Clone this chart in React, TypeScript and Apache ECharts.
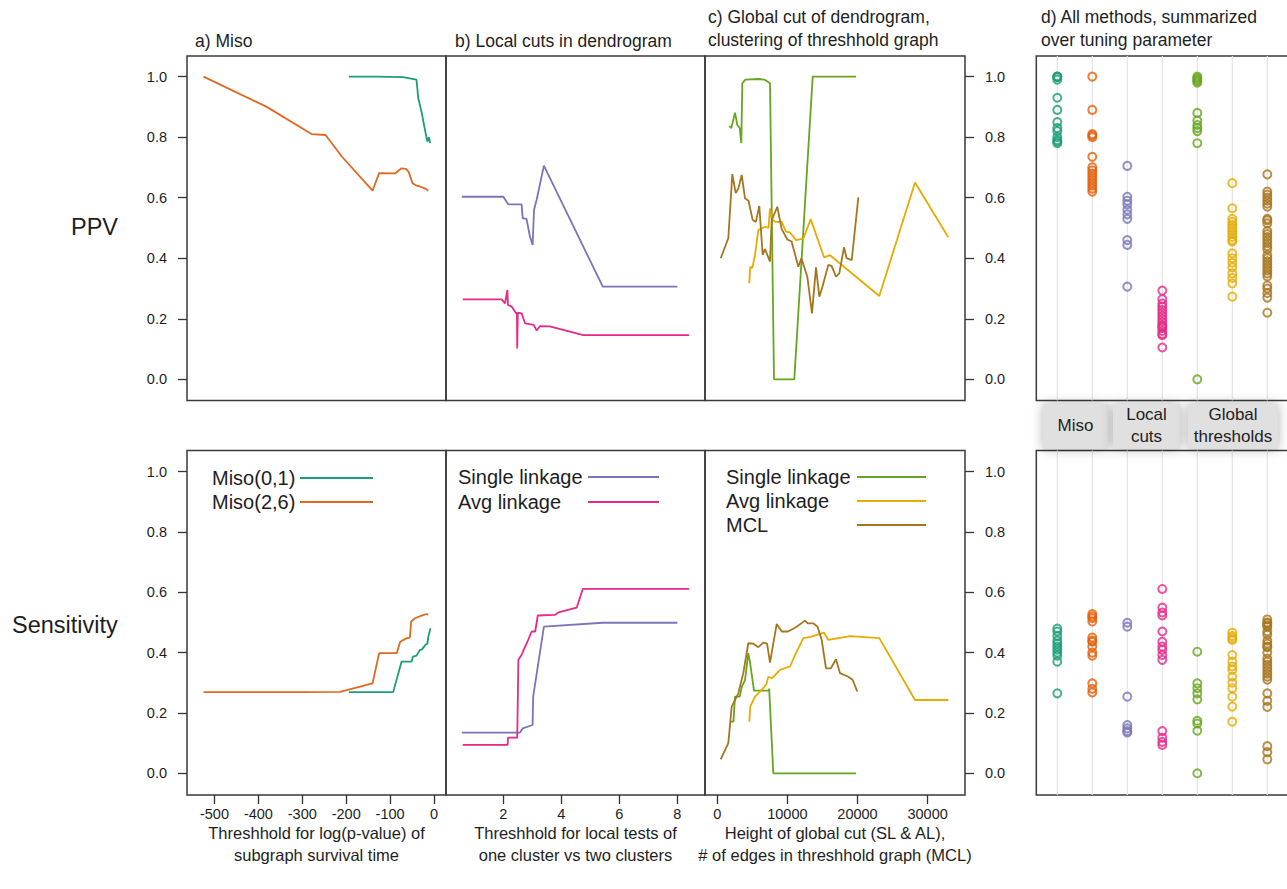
import React, { useEffect, useRef } from "react";
import * as echarts from "echarts";

type Pt = [number, number];

// ---------- Panel a: Miso (x = log p-value threshold) ----------
const miso01PPV: Pt[] = [[-194, 1.0], [-130, 1.0], [-71, 0.998], [-40, 0.99], [-38, 0.96], [-36, 0.93], [-28, 0.88], [-20, 0.82], [-15, 0.785], [-12, 0.8], [-10, 0.79], [-9, 0.78]];
const miso26PPV: Pt[] = [[-525, 1.0], [-381, 0.9], [-279, 0.81], [-247, 0.807], [-210, 0.736], [-140, 0.623], [-125, 0.681], [-89, 0.68], [-74, 0.697], [-64, 0.695], [-58, 0.686], [-49, 0.648], [-40, 0.64], [-32, 0.637], [-20, 0.63], [-13, 0.623]];
const miso01Sens: Pt[] = [[-194, 0.269], [-93, 0.269], [-74, 0.37], [-51, 0.37], [-48, 0.387], [-40, 0.39], [-32, 0.409], [-28, 0.41], [-20, 0.425], [-15, 0.43], [-13, 0.453], [-8, 0.481]];
const miso26Sens: Pt[] = [[-525, 0.269], [-300, 0.269], [-214, 0.27], [-140, 0.298], [-125, 0.398], [-85, 0.398], [-77, 0.436], [-62, 0.448], [-55, 0.45], [-52, 0.503], [-43, 0.514], [-30, 0.522], [-17, 0.528], [-13, 0.526]];

// ---------- Panel b: local cuts ----------
const slLocalPPV: Pt[] = [[0.57, 0.603], [2.0, 0.603], [2.17, 0.578], [2.63, 0.578], [2.67, 0.532], [2.8, 0.53], [2.92, 0.471], [3.01, 0.444], [3.06, 0.56], [3.15, 0.593], [3.4, 0.706], [5.43, 0.306], [8.0, 0.306]];
const alLocalPPV: Pt[] = [[0.6, 0.264], [1.94, 0.264], [2.06, 0.251], [2.14, 0.295], [2.16, 0.246], [2.29, 0.24], [2.44, 0.218], [2.47, 0.22], [2.48, 0.102], [2.5, 0.22], [2.63, 0.218], [2.75, 0.185], [2.9, 0.182], [3.05, 0.18], [3.15, 0.161], [3.27, 0.176], [3.6, 0.175], [4.76, 0.146], [8.41, 0.146]];
const slLocalSens: Pt[] = [[0.57, 0.135], [2.58, 0.135], [2.67, 0.149], [3.01, 0.16], [3.03, 0.254], [3.4, 0.486], [5.43, 0.499], [8.0, 0.499]];
const alLocalSens: Pt[] = [[0.6, 0.094], [2.15, 0.094], [2.16, 0.118], [2.48, 0.118], [2.52, 0.376], [2.63, 0.392], [2.7, 0.409], [2.83, 0.436], [2.98, 0.47], [3.1, 0.47], [3.19, 0.523], [3.78, 0.525], [3.9, 0.533], [4.53, 0.549], [4.74, 0.611], [8.41, 0.611]];

// ---------- Panel c: global cuts ----------
const slGlobalPPV: Pt[] = [[1712, 0.837], [2000, 0.83], [2525, 0.881], [2853, 0.84], [3200, 0.83], [3424, 0.78], [3567, 0.978], [4000, 0.99], [5849, 0.992], [6700, 0.99], [7518, 0.978], [8089, 0.0], [10984, 0.0], [13609, 1.0], [19785, 1.0]];
const alGlobalPPV: Pt[] = [[4565, 0.317], [4700, 0.372], [5000, 0.368], [5378, 0.411], [5849, 0.493], [6805, 0.504], [7300, 0.5], [7518, 0.565], [7750, 0.53], [8300, 0.52], [9186, 0.52], [9800, 0.488], [10370, 0.485], [11227, 0.46], [12270, 0.465], [13324, 0.529], [15221, 0.403], [16077, 0.41], [23110, 0.275], [28202, 0.65], [32956, 0.469]];
const mclPPV: Pt[] = [[485, 0.4], [1569, 0.466], [2140, 0.678], [2625, 0.615], [3000, 0.63], [3481, 0.675], [3952, 0.598], [4450, 0.59], [5050, 0.526], [5500, 0.52], [5992, 0.573], [6471, 0.411], [6800, 0.43], [7518, 0.389], [7758, 0.526], [8558, 0.57], [9186, 0.496], [10000, 0.462], [10600, 0.455], [11556, 0.372], [12000, 0.4], [12840, 0.339], [13509, 0.218], [14080, 0.37], [14551, 0.273], [15000, 0.306], [15835, 0.378], [16300, 0.375], [16933, 0.339], [17400, 0.35], [18074, 0.436], [18450, 0.4], [19177, 0.394], [20121, 0.601]];
const slGlobalSens: Pt[] = [[1812, 0.171], [2300, 0.171], [2525, 0.254], [3200, 0.254], [3500, 0.287], [3952, 0.309], [4423, 0.398], [4650, 0.37], [5235, 0.274], [7275, 0.274], [7400, 0.28], [7989, 0.0], [19785, 0.0]];
const alGlobalSens: Pt[] = [[4565, 0.171], [4700, 0.221], [5378, 0.254], [6562, 0.282], [7000, 0.295], [7275, 0.32], [7800, 0.315], [8944, 0.343], [10370, 0.354], [11084, 0.392], [12270, 0.448], [13300, 0.452], [15221, 0.466], [15834, 0.442], [18930, 0.455], [23110, 0.448], [28202, 0.243], [32956, 0.243]];
const mclSens: Pt[] = [[485, 0.046], [1569, 0.1], [2054, 0.221], [3000, 0.265], [3709, 0.332], [4423, 0.431], [5100, 0.43], [5849, 0.418], [6562, 0.433], [7100, 0.43], [7518, 0.367], [8473, 0.495], [9186, 0.47], [10100, 0.47], [11327, 0.486], [12511, 0.506], [12900, 0.497], [13695, 0.497], [14300, 0.486], [14893, 0.442], [15506, 0.348], [16200, 0.348], [16933, 0.378], [17503, 0.332], [18687, 0.32], [19300, 0.31], [19971, 0.271]];

// ---------- Panel d: summary over tuning parameter ----------
const methods = ["Miso(0,1)", "Miso(2,6)", "SL local", "AL local", "SL global", "AL global", "MCL"];
const sumPPV: number[][] = [
  [1.0, 1.0, 0.998, 0.99, 0.93, 0.89, 0.85, 0.83, 0.82, 0.8, 0.79, 0.785, 0.78],
  [1.0, 0.89, 0.81, 0.805, 0.8, 0.735, 0.7, 0.69, 0.68, 0.67, 0.66, 0.65, 0.64, 0.63, 0.62],
  [0.705, 0.603, 0.59, 0.578, 0.56, 0.545, 0.53, 0.46, 0.444, 0.306],
  [0.293, 0.265, 0.25, 0.24, 0.23, 0.22, 0.21, 0.2, 0.19, 0.18, 0.175, 0.17, 0.16, 0.15, 0.146, 0.105],
  [1.0, 0.995, 0.99, 0.985, 0.98, 0.88, 0.855, 0.84, 0.83, 0.82, 0.78, 0.0],
  [0.648, 0.565, 0.53, 0.52, 0.51, 0.5, 0.49, 0.48, 0.47, 0.46, 0.455, 0.416, 0.4, 0.385, 0.37, 0.35, 0.335, 0.317, 0.273],
  [0.677, 0.62, 0.61, 0.6, 0.59, 0.58, 0.57, 0.53, 0.525, 0.515, 0.49, 0.48, 0.47, 0.46, 0.45, 0.44, 0.43, 0.41, 0.4, 0.39, 0.38, 0.37, 0.36, 0.35, 0.34, 0.31, 0.3, 0.285, 0.27, 0.22],
];
const sumSens: number[][] = [
  [0.48, 0.47, 0.455, 0.44, 0.43, 0.42, 0.41, 0.4, 0.39, 0.37, 0.265],
  [0.528, 0.52, 0.514, 0.503, 0.45, 0.44, 0.436, 0.42, 0.4, 0.39, 0.298, 0.28, 0.268],
  [0.499, 0.486, 0.254, 0.16, 0.149, 0.14, 0.135],
  [0.611, 0.549, 0.533, 0.523, 0.47, 0.436, 0.42, 0.409, 0.392, 0.376, 0.14, 0.118, 0.104, 0.094],
  [0.403, 0.298, 0.282, 0.265, 0.245, 0.174, 0.165, 0.141, 0.0],
  [0.466, 0.455, 0.448, 0.442, 0.392, 0.37, 0.354, 0.343, 0.32, 0.3, 0.282, 0.254, 0.221, 0.171],
  [0.51, 0.5, 0.497, 0.49, 0.486, 0.47, 0.46, 0.44, 0.43, 0.42, 0.418, 0.4, 0.38, 0.37, 0.36, 0.35, 0.34, 0.33, 0.32, 0.31, 0.265, 0.24, 0.22, 0.09, 0.07, 0.046],
];

const yTicks = [0, 0.2, 0.4, 0.6, 0.8, 1.0];
const xTicksA = [-500, -400, -300, -200, -100, 0];
const xTicksB = [2, 4, 6, 8];
const xTicksC = [0, 10000, 20000, 30000];

const C = {
  teal: "#1B9E77",
  orange: "#DE6A22",
  purple: "#7A75B8",
  pink: "#E7298A",
  green: "#66A61E",
  yellow: "#E6AB02",
  brown: "#A6761D",
};
const methodColors = ["#1B9E77", "#E35F0A", C.purple, C.pink, C.green, C.yellow, C.brown];

const FONT = '"Liberation Sans", Arial, Helvetica, sans-serif';
const INK = "#1e1e1e";

export default function App() {
  const ref = useRef<HTMLDivElement>(null);
  useEffect(() => {
    document.body.style.margin = "0";
    document.body.style.overflow = "hidden";
    const chart = echarts.init(ref.current!, null, { renderer: "svg" });

    const colsX = [
      { left: 187, width: 259 },
      { left: 446, width: 259 },
      { left: 705, width: 260 },
      { left: 1036.3, width: 252 },
    ];
    const rows = [
      { top: 56, height: 344.5, ymin: -0.07, ymax: 1.068 },
      { top: 450.5, height: 344.5, ymin: -0.072, ymax: 1.07 },
    ];
    const xr = [
      { min: -562.6, max: 27.3, ticks: xTicksA, name: "Threshhold for log(p-value) of\nsubgraph survival time" },
      { min: 0.024, max: 8.955, ticks: xTicksB, name: "Threshhold for local tests of\none cluster vs two clusters" },
      { min: -1755, max: 35335, ticks: xTicksC, name: "Height of global cut (SL & AL),\n# of edges in threshhold graph (MCL)" },
      { min: 0.4, max: 7.6, ticks: [], name: "" },
    ];

    const grid: any[] = [];
    const xAxis: any[] = [];
    const yAxis: any[] = [];
    rows.forEach((r, ri) => {
      colsX.forEach((c, ci) => {
        grid.push({
          left: c.left, width: c.width, top: r.top, height: r.height,
          show: true, borderColor: "#3a3a3a", borderWidth: 1.5,
          backgroundColor: "transparent", containLabel: false, outerBoundsMode: "none",
        });
        const idx = ri * 4 + ci;
        const showX = ri === 1 && ci < 3;
        xAxis.push({
          type: "value", gridIndex: idx, min: xr[ci].min, max: xr[ci].max,
          show: showX, position: "bottom",
          axisLine: { show: false, onZero: false },
          splitLine: { show: false },
          axisTick: { show: showX, inside: false, length: 9, customValues: xr[ci].ticks, lineStyle: { color: "#333", width: 1.3 } },
          axisLabel: {
            show: showX, customValues: xr[ci].ticks, margin: 11, fontSize: 14.5, color: INK, fontFamily: FONT,
            formatter: (v: number) => String(v),
          },
          name: showX ? xr[ci].name : "",
          nameLocation: "middle",
          nameGap: 27,
          nameTextStyle: { fontSize: 16.5, lineHeight: 22, color: INK, fontFamily: FONT, verticalAlign: "top", align: "center" },
        });
        const showY = ci === 0 || ci === 2;
        yAxis.push({
          type: "value", gridIndex: idx, min: r.ymin, max: r.ymax,
          show: showY, position: ci === 2 ? "right" : "left",
          axisLine: { show: false, onZero: false },
          splitLine: { show: false },
          axisTick: { show: showY, inside: false, length: 9, customValues: yTicks, lineStyle: { color: "#333", width: 1.3 } },
          axisLabel: {
            show: showY, customValues: yTicks, margin: 20, fontSize: 14.5, color: INK, fontFamily: FONT,
            formatter: (v: number) => v.toFixed(1),
          },
        });
      });
    });

    const line = (data: Pt[], color: string, idx: number) => ({
      type: "line", data, xAxisIndex: idx, yAxisIndex: idx, symbol: "none", silent: true,
      lineStyle: { color, width: 1.8 }, itemStyle: { color }, z: 3, clip: true,
    });

    const series: any[] = [
      line(miso01PPV, C.teal, 0), line(miso26PPV, C.orange, 0),
      line(slLocalPPV, C.purple, 1), line(alLocalPPV, C.pink, 1),
      line(slGlobalPPV, C.green, 2), line(alGlobalPPV, C.yellow, 2), line(mclPPV, C.brown, 2),
      line(miso01Sens, C.teal, 4), line(miso26Sens, C.orange, 4),
      line(slLocalSens, C.purple, 5), line(alLocalSens, C.pink, 5),
      line(slGlobalSens, C.green, 6), line(alGlobalSens, C.yellow, 6), line(mclSens, C.brown, 6),
    ];

    // Panel d: column guide lines + hollow points
    [3, 7].forEach((idx, ri) => {
      const r = rows[ri];
      methods.forEach((m, mi) => {
        series.push({
          type: "line", xAxisIndex: idx, yAxisIndex: idx, symbol: "none", silent: true, z: 1,
          data: [[mi + 1, r.ymin], [mi + 1, r.ymax]],
          lineStyle: { color: "#e4e4e4", width: 1.2 },
        });
      });
      const src = ri === 0 ? sumPPV : sumSens;
      src.forEach((vals, mi) => {
        series.push({
          type: "scatter", name: methods[mi], xAxisIndex: idx, yAxisIndex: idx, silent: true, z: 4,
          data: vals.map((v) => [mi + 1, v]),
          symbol: "circle", symbolSize: 8,
          itemStyle: { color: "rgba(0,0,0,0)", borderColor: methodColors[mi], borderWidth: 2 },
        });
      });
    });

    const txt = (text: string, x: number, y: number, size: number, extra: any = {}) => ({
      type: "text", x, y, silent: true,
      style: { text, fontSize: size, fontFamily: FONT, fill: INK, verticalAlign: "middle", align: "left", ...extra },
    });
    const seg = (x1: number, x2: number, y: number, color: string) => ({
      type: "line", silent: true, shape: { x1, y1: y, x2, y2: y }, style: { stroke: color, lineWidth: 1.8 },
    });

    const graphic: any[] = [
      txt("a) Miso", 195, 41, 17.5),
      txt("b) Local cuts in dendrogram", 455, 41, 17.5),
      txt("c) Global cut of dendrogram,\nclustering of threshhold graph", 708, 28, 17.5, { lineHeight: 23 }),
      txt("d) All methods, summarized\nover tuning parameter", 1041, 28, 17.5, { lineHeight: 23 }),
      txt("PPV", 71, 227, 23.5),
      txt("Sensitivity", 12, 625, 23.5),
      // legends
      txt("Miso(0,1)", 212, 478, 20), seg(300, 373, 478, C.teal),
      txt("Miso(2,6)", 212, 502, 20), seg(300, 373, 502, C.orange),
      txt("Single linkage", 458, 477, 20), seg(588, 659, 477, C.purple),
      txt("Avg linkage", 458, 502, 20), seg(588, 659, 502, C.pink),
      txt("Single linkage", 726, 477, 20), seg(857, 926, 477, C.green),
      txt("Avg linkage", 726, 501, 20), seg(857, 926, 501, C.yellow),
      txt("MCL", 726, 525, 20), seg(857, 926, 525, C.brown),
    ];
    const strips = [
      { label: "Miso", x: 1043, w: 65 },
      { label: "Local\ncuts", x: 1113, w: 67 },
      { label: "Global\nthresholds", x: 1188, w: 90 },
    ];
    strips.forEach((s) => {
      graphic.push({
        type: "rect", silent: true, z: 5,
        shape: { x: s.x, y: 404, width: s.w, height: 45 },
        style: { fill: "#e0e0e0", shadowBlur: 12, shadowColor: "rgba(0,0,0,0.3)" },
      });
      graphic.push({
        type: "text", silent: true, z: 6, x: s.x + s.w / 2, y: 425,
        style: { text: s.label, fontSize: 17, lineHeight: 22, fontFamily: FONT, fill: INK, align: "center", verticalAlign: "middle" },
      });
    });

    chart.setOption({
      animation: false,
      backgroundColor: "#ffffff",
      textStyle: { fontFamily: FONT },
      grid, xAxis, yAxis, series, graphic,
    });
    return () => chart.dispose();
  }, []);
  return <div ref={ref} style={{ width: 1287, height: 889 }} />;
}
